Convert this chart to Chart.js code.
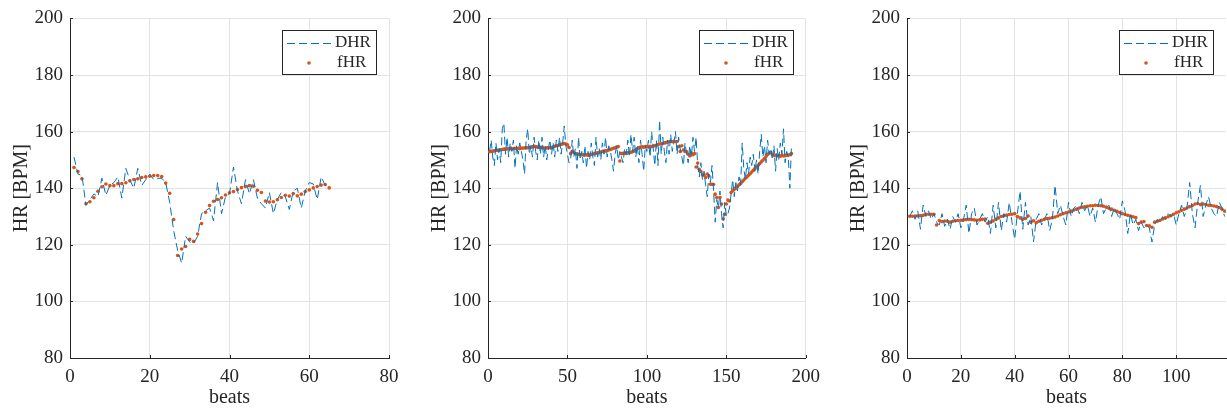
<!DOCTYPE html>
<html lang="en">
<head>
  <meta charset="UTF-8" />
  <title>DHR x fHR</title>
  <script src="https://cdn.jsdelivr.net/npm/chart.js"></script>
  <style>
    html, body {
      margin: 0;
      padding: 0;
      background: #fff;
    }

    body {
      position: relative;
      width: 1227px;
      height: 410px;
      overflow: hidden;
    }

    canvas {
      position: absolute;
      top: 0;
    }
  </style>
</head>
<body>
  <canvas id="painel1" width="410" height="410" style="left: 0px;"></canvas>
  <canvas id="painel2" width="410" height="410" style="left: 418px;"></canvas>
  <canvas id="painel3" width="410" height="410" style="left: 837px;"></canvas>

  <script>
    // registro 1 (um valor por batimento, a partir do batimento 1)
    const dhr1 = [151,145,144.5,134,136,138,137,143.5,137.5,141, 142,144,136.5,147,143,140,147,141,143,145,
      143,143.5,143.5,142,135,125,118,113.5,123,121, 120.5,123,131,132,133,128.5,142,131,137,138,
      147.5,139,134.5,143,138,143,136.5,134.5,133,138.5, 131,136,138.5,137,132.5,139,140,133,139,142,
      141.5,136,144,141,140];
    const fhr1 = [147.3,145.9,143.3,134.5,135.2,136.6,138.9,140.5,141.5,140.9, 140.9,141.6,141.6,141.9,142.6,143.1,143.3,143.8,144.0,144.2,
      144.5,144.5,144.1,141.8,138.2,128.9,116.2,118.5,119.4,121.9, 121.2,123.8,127.5,131.5,133.9,135.4,136.0,136.6,137.6,138.4,
      138.8,139.5,140.2,140.6,140.9,140.7,139.3,138.5,135.5,135.1, 135.2,135.9,136.7,137.5,137.2,138.1,137.3,137.9,138.8,139.4,
      140.1,140.6,141.1,141.3,140.1];

    // registro 2
    const dhr2 = [153,157,151,148,156,150,154,149,161,163, 152,158,151,156,153,157,147,155,152,156,
      153,150,145,157,161,152,155,151,158,153, 150,157,152,158,151,155,150,154,157,152,
      156,151,157,153,158,152,156,162,155,152, 149,150,157,151,154,147,158,150,153,149,
      155,147,153,150,156,151,148,158,151,154, 150,156,152,158,151,155,153,150,146,152,
      155,150,153,151,149,154,152,157,151,159, 153,158,151,155,149,157,152,146,155,153,
      157,151,160,154,148,157,148,164,152,158, 153,149,157,152,159,153,156,160,152,158,
      154,151,148,156,152,149,155,151,158,153, 158,148,144,149,143,146,141,137,145,142,
      148,139,128,136,133,139,131,126,135,130, 131,133,138,143,137,142,139,144,141,156,
      147,143,149,145,151,148,152,146,150,145, 153,159,151,155,149,157,152,154,150,155,
      146,154,150,156,152,161,149,153,151,140,155];
    const fhr2 = [152.9,153.0,153.1,153.2,153.3,153.4,153.5,153.6,153.7,153.8, 153.8,153.9,153.9,154.0,153.9,154.0,154.1,154.0,154.1,154.0,
      154.1,154.2,154.2,154.3,154.3,154.4,154.5,154.6,154.8,154.7, 154.5,154.6,154.4,154.3,154.2,154.1,154.3,154.2,154.4,154.3,
      154.6,154.8,155.0,155.1,155.3,155.5,155.6,155.8,155.6,155.3, 154.4,152.2,153.0,152.6,152.2,152.1,152.0,151.9,151.8,151.8,
      151.7,151.8,151.6,151.7,151.9,152.1,152.2,152.4,152.5,152.7, 152.8,153.0,153.1,153.2,153.3,153.5,153.7,153.9,154.1,154.3,
      154.5,154.7,149.6,152.2,152.3,152.4,152.3,152.5,152.6,152.7, 152.9,153.2,153.6,154.0,154.3,154.5,154.6,154.5,154.7,154.7,
      154.6,154.8,154.7,154.9,155.0,155.2,155.4,155.6,155.7,155.8, 156.0,156.1,156.3,156.4,156.5,156.4,156.6,156.5,156.5,154.7,
      153.0,155.0,153.5,153.0,152.9,152.0,151.4,152.4,151.8,152.2, 147.5,148.9,146.7,145.9,144.7,144.6,143.8,145.0,144.3,141.4,
      141.4,141.3,137.9,136.7,133.2,136.7,134.4,129.1,130.8,134.4, 135.8,135.5,138.5,139.0,139.6,140.1,140.6,141.2,141.7,142.3,
      142.9,143.5,144.0,144.6,145.1,145.7,146.3,146.9,147.5,148.1, 148.7,149.3,149.9,150.5,151.2,151.9,152.4,152.6,151.8,151.7,
      151.6,151.4,151.5,151.3,151.6,151.4,151.5,151.7,151.6,151.9,152.2];

    // registro 3
    const dhr3 = [130,132,129,132,125.5,134,130,132,129,131, 128,127,131,126.5,129,125.5,130,128,131,126,
      129,134,124,131,133,127,129,131,128,130, 124,134,126,135,125,131,128,135,128,122,
      131,139,125.5,135,127,130,121,129,131,127, 129,131,125,129,141,131,134,130,127,135,
      130,133,134,131,135,132,134,130,133,128, 134,137,131,133,134,130,133,131,129,135.5,
      132,124,131,127,129,125,128,126,127,126, 121,127,129,128,130,129,131,130,131,127,
      131,134,130,133,142,131,126,135,141,130, 134,137,133,131,130,135,133,130];
    const fhr3 = [130.1,130.1,130.2,130.2,130.3,130.4,130.8,130.8,130.8,130.8, 127.0,128.6,128.2,128.4,128.3,128.0,128.3,128.5,128.6,128.7,
      128.8,128.9,129.0,128.9,128.8,128.7,128.8,129.0,129.1,127.6, 128.0,128.4,129.0,129.5,130.0,130.3,130.5,130.7,130.8,131.0,
      130.0,129.5,129.0,129.3,130.2,128.0,128.5,127.8,128.3,128.7, 129.0,129.3,129.4,129.6,129.8,130.2,130.6,131.0,131.3,131.6,
      131.9,132.3,132.6,133.0,133.3,133.4,133.6,133.8,133.8,134.0, 133.9,133.8,133.6,133.3,132.9,132.6,132.2,131.8,131.4,131.0,
      130.7,130.4,130.2,129.9,129.6,127.5,128.0,128.2,126.8,126.7, 126.2,128.0,128.3,128.7,129.1,129.5,129.9,130.3,130.8,131.3,
      131.7,132.2,132.6,133.0,133.5,133.9,134.4,134.6,134.2,134.4, 134.2,134.0,133.9,133.7,133.5,133.2,132.6,131.9];

    // eixos
    const yTicks = [80, 100, 120, 140, 160, 180, 200];
    const xTicks1 = [0, 20, 40, 60, 80];
    const xTicks2 = [0, 50, 100, 150, 200];
    const xTicks3 = [0, 20, 40, 60, 80, 100];
    const xLimite = [80, 200, 118.5];

    const AZUL = '#0072BD';
    const LARANJA = '#D95319';
    const TEXTO = '#262626';
    const GRADE = '#e3e3e3';

    Chart.defaults.font.family = "'Liberation Serif', 'Times New Roman', serif";
    Chart.defaults.color = TEXTO;

    // tracinhos para dentro nos eixos esquerdo e inferior
    const marcasInternas = {
      id: 'marcasInternas',
      afterDraw(chart) {
        const { ctx, chartArea, scales } = chart;
        ctx.save();
        ctx.strokeStyle = TEXTO;
        ctx.lineWidth = 1;
        ctx.beginPath();
        scales.y.ticks.forEach(t => {
          const y = Math.round(scales.y.getPixelForValue(t.value)) + 0.5;
          ctx.moveTo(chartArea.left, y);
          ctx.lineTo(chartArea.left + 3, y);
        });
        scales.x.ticks.forEach(t => {
          const x = Math.round(scales.x.getPixelForValue(t.value)) + 0.5;
          ctx.moveTo(x, chartArea.bottom);
          ctx.lineTo(x, chartArea.bottom - 3);
        });
        ctx.stroke();
        ctx.restore();
      }
    };

    // legenda com caixa no canto superior direito
    const legendaCaixa = {
      id: 'legendaCaixa',
      afterDraw(chart) {
        const { ctx, chartArea } = chart;
        const w = 94, h = 44;
        const x = Math.round(chartArea.right - 13 - w);
        const y = Math.round(chartArea.top + 12);
        const [linha, pontos] = chart.data.datasets;

        ctx.save();
        ctx.fillStyle = '#fff';
        ctx.fillRect(x, y, w, h);
        ctx.strokeStyle = TEXTO;
        ctx.lineWidth = 1;
        ctx.strokeRect(x + 0.5, y + 0.5, w, h);

        ctx.strokeStyle = linha.borderColor;
        ctx.setLineDash(linha.borderDash);
        ctx.beginPath();
        ctx.moveTo(x + 5, y + 13.5);
        ctx.lineTo(x + 51, y + 13.5);
        ctx.stroke();
        ctx.setLineDash([]);

        ctx.fillStyle = pontos.pointBackgroundColor;
        ctx.beginPath();
        ctx.arc(x + 27, y + 33, pontos.pointRadius, 0, Math.PI * 2);
        ctx.fill();

        ctx.fillStyle = TEXTO;
        ctx.font = "17px 'Liberation Serif', 'Times New Roman', serif";
        ctx.textBaseline = 'middle';
        ctx.fillText(linha.label, x + 53, y + 13);
        ctx.fillText(pontos.label, x + 55, y + 33);
        ctx.restore();
      }
    };

    function pontosDe(valores) {
      return valores.map((v, i) => ({ x: i + 1, y: v }));
    }

    function criarGrafico(id, dhr, fhr, xTicks, xMax) {
      return new Chart(document.getElementById(id), {
        type: 'scatter',
        data: {
          datasets: [{
            label: 'DHR',
            data: pontosDe(dhr),
            showLine: true,
            borderColor: AZUL,
            borderWidth: 1,
            borderDash: [8, 4],
            pointRadius: 0,
            fill: false
          }, {
            label: 'fHR',
            data: pontosDe(fhr),
            showLine: false,
            pointRadius: 1.8,
            pointBorderWidth: 0,
            pointBackgroundColor: LARANJA,
            backgroundColor: LARANJA
          }]
        },
        options: {
          responsive: false,
          animation: false,
          events: [],
          layout: { padding: { top: 16, right: 21, left: 0, bottom: 0 } },
          plugins: {
            legend: { display: false },
            tooltip: { enabled: false }
          },
          scales: {
            x: {
              type: 'linear',
              min: 0,
              max: xMax,
              afterFit: s => { s.height = 52; },
              afterBuildTicks: s => { s.ticks = xTicks.map(v => ({ value: v })); },
              grid: { color: GRADE, drawTicks: false },
              border: { color: TEXTO, width: 1 },
              ticks: { padding: 8, font: { size: 19 }, color: TEXTO, maxRotation: 0, autoSkip: false },
              title: { display: true, text: 'beats', font: { size: 20 }, color: TEXTO, padding: { top: 0, bottom: 0 } }
            },
            y: {
              min: 80,
              max: 200,
              afterFit: s => { s.width = 70; },
              afterBuildTicks: s => { s.ticks = yTicks.map(v => ({ value: v })); },
              grid: { color: GRADE, drawTicks: false },
              border: { color: TEXTO, width: 1 },
              ticks: { padding: 7, font: { size: 19 }, color: TEXTO, autoSkip: false },
              title: { display: true, text: 'HR [BPM]', font: { size: 20 }, color: TEXTO, padding: { top: 10, bottom: 0 } }
            }
          }
        },
        plugins: [marcasInternas, legendaCaixa]
      });
    }

    criarGrafico('painel1', dhr1, fhr1, xTicks1, xLimite[0]);
    criarGrafico('painel2', dhr2, fhr2, xTicks2, xLimite[1]);
    criarGrafico('painel3', dhr3, fhr3, xTicks3, xLimite[2]);
  </script>
</body>
</html>
